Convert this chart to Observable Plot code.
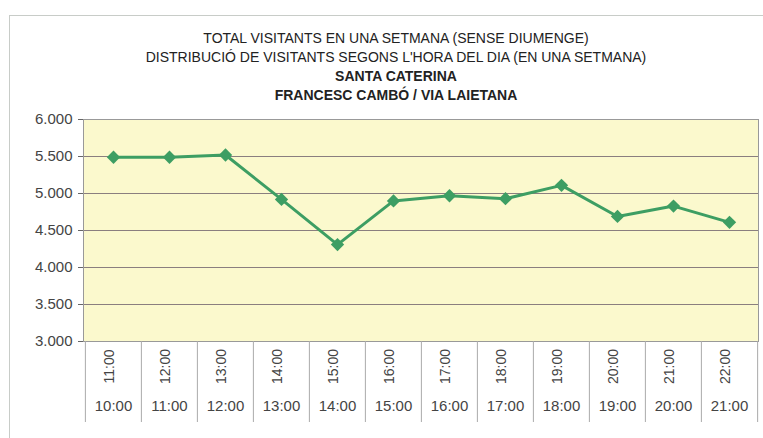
<!DOCTYPE html>
<html><head><meta charset="utf-8">
<script src="https://cdn.jsdelivr.net/npm/d3@7"></script>
<script src="https://cdn.jsdelivr.net/npm/@observablehq/plot@0.6"></script>
<style>
html,body{margin:0;padding:0;background:#fff;}
#wrap{position:relative;width:763px;height:438px;overflow:hidden;}
#border{position:absolute;left:9px;top:15px;width:800px;height:500px;border:1px solid #c8ccc8;}
#titles{position:absolute;top:29px;left:0;width:792px;text-align:center;font-family:"Liberation Sans Narrow","Liberation Sans",Arial,sans-serif;font-size:14px;line-height:19px;color:#222;}
#titles .b{font-weight:bold;}
#chart{position:absolute;left:0;top:0;}
</style></head><body>
<div id="wrap"><div id="border"></div><div id="titles"></div><div id="chart"></div></div>
<script>
const titleLines = ["TOTAL VISITANTS EN UNA SETMANA (SENSE DIUMENGE)", "DISTRIBUCIÓ DE VISITANTS SEGONS L'HORA DEL DIA (EN UNA SETMANA)"];
const boldLines = ["SANTA CATERINA", "FRANCESC CAMBÓ / VIA LAIETANA"];
const startHours = ["10:00","11:00","12:00","13:00","14:00","15:00","16:00","17:00","18:00","19:00","20:00","21:00"];
const endHours = ["11:00","12:00","13:00","14:00","15:00","16:00","17:00","18:00","19:00","20:00","21:00","22:00"];
const visitors = [5490, 5490, 5520, 4920, 4310, 4900, 4970, 4930, 5110, 4690, 4830, 4610];
const yTicks = [3000, 3500, 4000, 4500, 5000, 5500, 6000];

const titles = document.getElementById("titles");
titleLines.forEach(t => { const d = document.createElement("div"); d.textContent = t; titles.appendChild(d); });
boldLines.forEach(t => { const d = document.createElement("div"); d.className = "b"; d.textContent = t; titles.appendChild(d); });

const W = 763, H = 438, ML = 83, MR = 5, MT = 119, MB = 97;
const step = (W - ML - MR) / startHours.length;
const data = startHours.map((h, i) => ({hour: h, end: endHours[i], value: visitors[i]}));
const fmt = d3.formatLocale({thousands: ".", grouping: [3], decimal: ",", currency: ["", ""]}).format(",d");
const green = "#3d9e63";

const chart = Plot.plot({
  width: W, height: H, marginLeft: ML, marginRight: MR, marginTop: MT, marginBottom: MB,
  style: {fontFamily: "'Liberation Sans', Arial, sans-serif", fontSize: "15px", color: "#444", background: "transparent"},
  x: {type: "band", domain: startHours, padding: 0, axis: null},
  y: {domain: [3000, 6000]},
  marks: [
    Plot.frame({fill: "#fbf9cd"}),
    Plot.ruleY(yTicks.slice(1, -1), {stroke: "#8a7f7f", strokeWidth: 1}),
    Plot.frame({stroke: "#999"}),
    Plot.axisY(yTicks, {tickFormat: fmt, tickSize: 5, tickPadding: 6, label: null, stroke: "#666"}),
    Plot.ruleX(startHours, {x: d => d, dx: -step / 2, insetTop: H - MT - MB, insetBottom: -81, stroke: "#aaa"}),
    Plot.ruleX(startHours.slice(-1), {x: d => d, dx: step / 2, insetTop: H - MT - MB, insetBottom: -81, stroke: "#aaa"}),
    Plot.text(data, {x: "hour", text: "end", frameAnchor: "bottom", dy: 25, rotate: -90, fontSize: 14}),
    Plot.text(data, {x: "hour", text: "hour", frameAnchor: "bottom", dy: 69}),
    Plot.line(data, {x: "hour", y: "value", stroke: green, strokeWidth: 3}),
    Plot.dot(data, {x: "hour", y: "value", symbol: "diamond2", r: 6, fill: green})
  ]
});
document.getElementById("chart").appendChild(chart);
</script>
</body></html>
